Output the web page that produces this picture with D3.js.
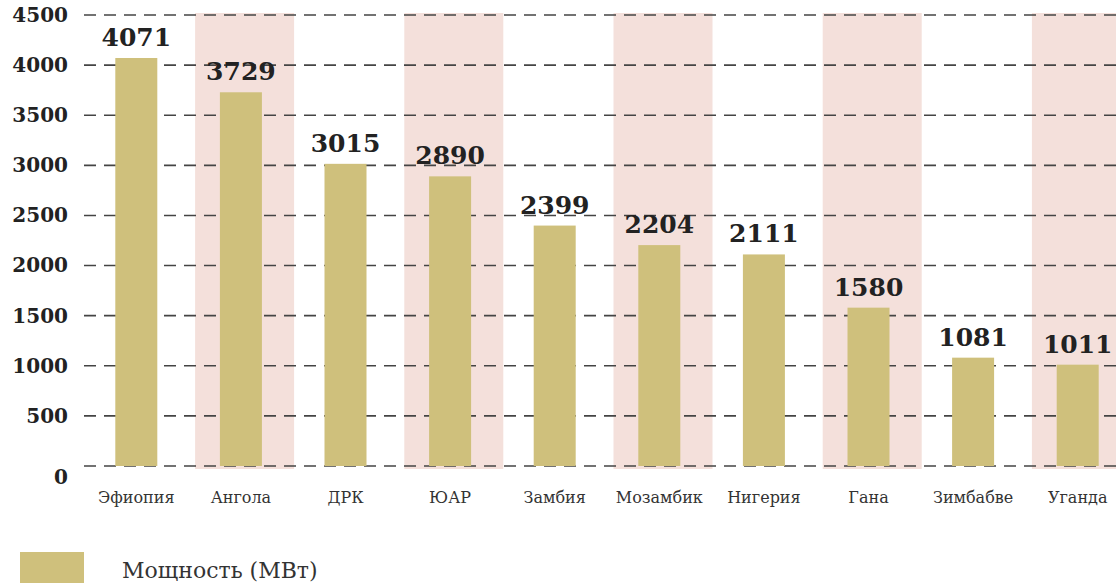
<!DOCTYPE html>
<html>
<head>
<meta charset="utf-8">
<script src="https://cdn.jsdelivr.net/npm/d3@7"></script>
<style>
	body { margin: 0; background: #fff; }
	svg { display: block; font-family: "DejaVu Serif", serif; }
</style>
</head>
<body>
<script>
// Установленная мощность ГЭС по странам (МВт)
var countries = ["Эфиопия", "Ангола", "ДРК", "ЮАР", "Замбия", "Мозамбик", "Нигерия", "Гана", "Зимбабве", "Уганда"];
var capacity = [4071, 3729, 3015, 2890, 2399, 2204, 2111, 1580, 1081, 1011];
var yTicks = [0, 500, 1000, 1500, 2000, 2500, 3000, 3500, 4000, 4500];
var legendLabel = "Мощность (МВт)";

var width = 1116, height = 583;
var barColor = "#cfc07c", shadeColor = "#f4e0db";

var data = countries.map(function(c, i){ return {name: c, value: capacity[i], idx: i}; });

var svg = d3.select("body").append("svg")
	.attr("width", width)
	.attr("height", height);

var x = d3.scaleBand().domain(countries).range([84, 1130]);
var y = d3.scaleLinear().domain([0, 4500]).range([466, 15]);

//Every second column gets a pale pink background
svg.append("g").selectAll("rect")
	.data(data.filter(function(d){ return d.idx % 2 === 1; }))
	.enter().append("rect")
	.attr("x", function(d){ return x(d.name) + 6.5; })
	.attr("y", y(4500) - 2)
	.attr("width", 99)
	.attr("height", y(0) - y(4500) + 5)
	.attr("fill", shadeColor);

//Y axis labels (no line, the grid does the job)
var yAxis = d3.axisLeft(y).tickValues(yTicks).tickFormat(d3.format("d")).tickSize(0).tickPadding(16);
var gAxis = svg.append("g").attr("transform", "translate(84,0)").call(yAxis);
gAxis.select(".domain").remove();
gAxis.selectAll("text")
	.attr("dy", function(d){ return d === 0 ? "0.85em" : "0.32em"; })
	.style("font-family", "DejaVu Serif")
	.style("font-size", "20px")
	.style("font-weight", "bold")
	.attr("fill", "#222");

//Dashed grid
svg.append("g").selectAll("line")
	.data(yTicks)
	.enter().append("line")
	.attr("x1", 84).attr("x2", width)
	.attr("y1", function(d){ return y(d); })
	.attr("y2", function(d){ return y(d); })
	.attr("stroke", "#444")
	.attr("stroke-width", 1.6)
	.attr("stroke-dasharray", "12,8");

//Bars
svg.append("g").selectAll("rect")
	.data(data)
	.enter().append("rect")
	.attr("x", function(d){ return x(d.name) + x.bandwidth() / 2 - 21; })
	.attr("y", function(d){ return y(d.value); })
	.attr("width", 42)
	.attr("height", function(d){ return y(0) - y(d.value); })
	.attr("fill", barColor);

//Value labels
svg.append("g").selectAll("text")
	.data(data)
	.enter().append("text")
	.attr("x", function(d){ return x(d.name) + x.bandwidth() / 2; })
	.attr("y", function(d){ return y(d.value) - 12; })
	.attr("text-anchor", "middle")
	.style("font-size", "25px")
	.style("font-weight", "bold")
	.attr("fill", "#222")
	.text(function(d){ return d.value; });

//Category labels
svg.append("g").selectAll("text")
	.data(data)
	.enter().append("text")
	.attr("x", function(d){ return x(d.name) + x.bandwidth() / 2; })
	.attr("y", 503)
	.attr("text-anchor", "middle")
	.style("font-size", "16px")
	.attr("fill", "#333")
	.text(function(d){ return d.name; });

//Legend
svg.append("rect")
	.attr("x", 20).attr("y", 552)
	.attr("width", 64).attr("height", 40)
	.attr("fill", barColor);
svg.append("text")
	.attr("x", 122).attr("y", 578)
	.style("font-size", "22px")
	.attr("fill", "#333")
	.text(legendLabel);
</script>
</body>
</html>
